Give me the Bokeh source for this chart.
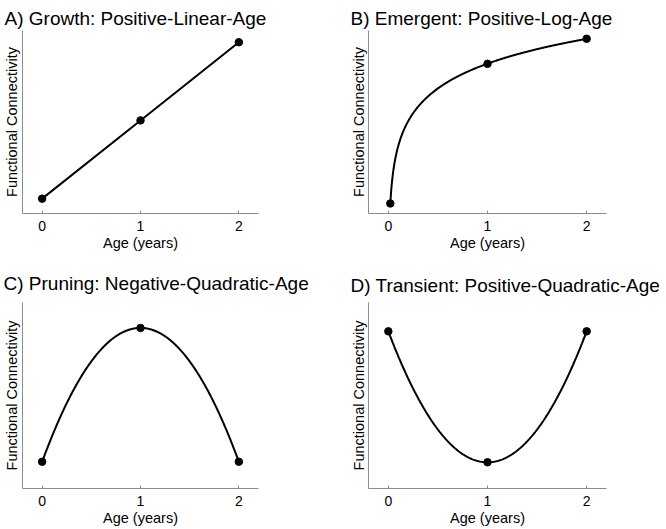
import numpy as np
from bokeh.plotting import figure
from bokeh.layouts import gridplot
from bokeh.models import Range1d, FixedTicker
from bokeh.embed import file_html
from bokeh.resources import INLINE

FONT = "Liberation Sans"

# ---- data ----
titles = ["A) Growth: Positive-Linear-Age",
          "B) Emergent: Positive-Log-Age",
          "C) Pruning: Negative-Quadratic-Age",
          "D) Transient: Positive-Quadratic-Age"]
x_label = "Age (years)"
y_label = "Functional Connectivity"
age_ticks = [0, 1, 2]

linear_age = [0, 1, 2]
linear_fc = [0.0, 1.0, 2.0]

log_age = [0.02, 1, 2]
log_fc = [0.0, 3.9, 4.6]

prune_age = [0, 1, 2]
prune_fc = [0.0, 1.0, 0.0]

transient_age = [0, 1, 2]
transient_fc = [1.0, 0.0, 1.0]

AXIS_GREY = "#8c8c8c"
X_RANGE = (-0.2, 2.2)


def make_fig(title, y_rng, width, height, left, right, top, bottom,
             t_off, t_standoff, ylab_standoff):
    p = figure(width=width, height=height,
               x_range=Range1d(*X_RANGE), y_range=Range1d(*y_rng),
               output_backend="svg", toolbar_location=None,
               min_border_left=left, min_border_right=right,
               min_border_top=top, min_border_bottom=bottom)
    p.title.text = title
    p.title.text_font = FONT
    p.title.text_font_size = "19px"
    p.title.text_font_style = "normal"
    p.title.text_color = "black"
    p.title.align = "left"
    p.title.vertical_align = "top"
    p.title.offset = t_off
    p.title.standoff = t_standoff
    p.xgrid.visible = False
    p.ygrid.visible = False
    p.outline_line_color = None
    p.background_fill_color = "white"
    p.border_fill_color = "white"
    for ax in (p.xaxis[0], p.yaxis[0]):
        ax.axis_line_color = AXIS_GREY
        ax.axis_line_width = 1
        ax.axis_label_text_font = FONT
        ax.axis_label_text_font_size = "14.5px"
        ax.axis_label_text_font_style = "normal"
        ax.axis_label_text_color = "black"
        ax.major_label_text_font = FONT
        ax.major_label_text_font_size = "14px"
        ax.major_label_text_color = "black"
        ax.minor_tick_line_color = None
    p.xaxis.axis_label = x_label
    p.xaxis.ticker = FixedTicker(ticks=age_ticks)
    p.xaxis.major_tick_line_color = AXIS_GREY
    p.xaxis.major_tick_in = 3
    p.xaxis.major_tick_out = 0
    p.xaxis.major_label_standoff = 7
    p.xaxis.axis_label_standoff = 1
    p.yaxis.axis_label = y_label
    p.yaxis.ticker = FixedTicker(ticks=[])
    p.yaxis.major_tick_line_color = None
    p.yaxis.major_label_text_font_size = "0px"
    p.yaxis.major_label_standoff = 0
    p.yaxis.major_tick_out = 0
    p.yaxis.major_tick_in = 0
    p.yaxis.axis_label_standoff = ylab_standoff
    return p


# A: linear
pa = make_fig(titles[0], (-0.19, 2.15), 333, 265, 21, 75, 30, 52, -18, 0, 3)
pa.line(linear_age, linear_fc, line_color="black", line_width=2)
pa.scatter(linear_age, linear_fc, size=7.5, color="black")

# B: log
b_slope, b_int = np.polyfit(np.log(log_age), log_fc, 1)
xs_b = np.linspace(min(log_age), max(log_age), 300)
pb = make_fig(titles[1], (-0.28, 4.83), 333, 265, 35, 60, 29, 52, -18, 0, 2)
pb.line(xs_b, b_int + b_slope * np.log(xs_b), line_color="black", line_width=2)
pb.scatter(log_age, log_fc, size=7.5, color="black")

# C: negative quadratic
cc = np.polyfit(prune_age, prune_fc, 2)
xs_c = np.linspace(min(prune_age), max(prune_age), 300)
pc = make_fig(titles[2], (-0.2, 1.19), 333, 264, 21, 75, 37, 41, -19, 13, 3)
pc.line(xs_c, np.polyval(cc, xs_c), line_color="black", line_width=2)
pc.scatter(prune_age, prune_fc, size=7.5, color="black")

# D: positive quadratic
dc = np.polyfit(transient_age, transient_fc, 2)
xs_d = np.linspace(min(transient_age), max(transient_age), 300)
pd_ = make_fig(titles[3], (-0.2, 1.22), 333, 264, 35, 60, 33, 41, -18, 9, 2)
pd_.line(xs_d, np.polyval(dc, xs_d), line_color="black", line_width=2)
pd_.scatter(transient_age, transient_fc, size=7.5, color="black")

p = gridplot([[pa, pb], [pc, pd_]], toolbar_location=None)

open("out.html", "w").write(file_html(p, INLINE))
